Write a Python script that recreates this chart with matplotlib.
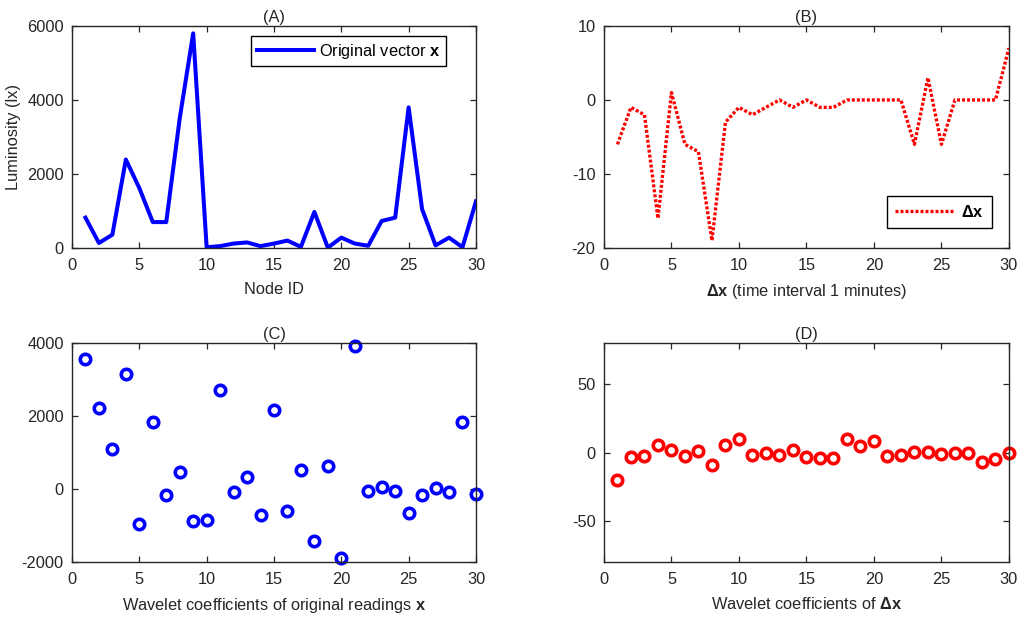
import matplotlib
matplotlib.use("Agg")
import matplotlib.pyplot as plt
import numpy as np

plt.rcParams['font.family'] = ['Liberation Sans', 'DejaVu Sans']
plt.rcParams['mathtext.fontset'] = 'custom'
plt.rcParams['mathtext.rm'] = 'Liberation Sans'
plt.rcParams['mathtext.bf'] = 'Liberation Sans:bold'
plt.rcParams['mathtext.it'] = 'Liberation Sans:italic'
plt.rcParams['axes.unicode_minus'] = False

node_id = list(range(1, 31))

original_x = [820, 135, 360, 2390, 1620, 700, 700, 3500, 5800, 20,
              50, 120, 150, 50, 120, 200, 30, 975, 10, 280,
              120, 60, 730, 820, 3800, 1050, 70, 280, 20, 1260]

delta_x = [-6, -1, -2, -16, 1, -6, -7, -19, -3, -1,
           -2, -1, 0, -1, 0, -1, -1, 0, 0, 0,
           0, 0, -6, 3, -6, 0, 0, 0, 0, 7]

wavelet_x = [3570, 2210, 1096, 3151, -950, 1826, -155, 475, -886, -849,
             2703, -82, 338, -703, 2174, -603, 511, -1434, 639, -1890,
             3927, -64, 64, -55, -667, -174, 18, -82, 1826, -146]

wavelet_dx = [-20, -3, -2.2, 5.6, 1.7, -2.2, 1, -9.4, 5.6, 10,
              -1.5, -0.5, -1.5, 1.7, -3.1, -4.1, -3.9, 10, 4.4, 8.2,
              -2.4, -1.5, 0.5, 0.7, -1.2, -0.2, -0.2, -6.8, -4.8, 0]

xticks = [0, 5, 10, 15, 20, 25, 30]
yticks_a = [0, 2000, 4000, 6000]
yticks_b = [-20, -10, 0, 10]
yticks_c = [-2000, 0, 2000, 4000]
yticks_d = [-50, 0, 50]

txt = '#262626'
fs = 11.8

fig = plt.figure(figsize=(10.24, 6.22), dpi=100)
axA = fig.add_axes([0.0703, 0.6013, 0.3945, 0.357])
axB = fig.add_axes([0.5898, 0.6013, 0.3955, 0.357])
axC = fig.add_axes([0.0703, 0.0965, 0.3945, 0.352])
axD = fig.add_axes([0.5898, 0.0965, 0.3955, 0.352])


def style(ax):
    for s in ax.spines.values():
        s.set_color(txt)
        s.set_linewidth(1.0)
    ax.tick_params(direction='in', top=True, right=True, length=4,
                   width=0.9, colors=txt, labelsize=fs, labelcolor=txt)
    ax.tick_params(axis='x', pad=7.5)
    ax.tick_params(axis='y', pad=6)
    ax.set_xlim(0, 30)
    ax.set_xticks(xticks)


# (A)
axA.plot(node_id, original_x, color='#0000ff', lw=2.9,
         label=r'Original vector $\mathbf{x}$')
style(axA)
axA.set_ylim(0, 6000)
axA.set_yticks(yticks_a)
axA.set_title('(A)', fontsize=fs, color=txt, pad=3)
axA.set_xlabel('Node ID', fontsize=fs, color=txt, labelpad=6.5)
axA.set_ylabel('Luminosity (lx)', fontsize=fs, color=txt, labelpad=4)
legA = axA.legend(loc='upper right', bbox_to_anchor=(0.926, 0.955),
                  borderaxespad=0,
                  fontsize=fs, fancybox=False, framealpha=1,
                  edgecolor='black', handlelength=3.5, borderpad=0.35,
                  handletextpad=0.3)
legA.get_frame().set_linewidth(1.0)

# (B)
axB.plot(node_id, delta_x, color='#ff0000', lw=2.4, dashes=(0.9, 0.6),
         dash_capstyle='butt', label=r'$\mathbf{\Delta x}$')
style(axB)
axB.set_ylim(-20, 10)
axB.set_yticks(yticks_b)
axB.set_title('(B)', fontsize=fs, color=txt, pad=3)
axB.set_xlabel(r'$\mathbf{\Delta x}$ (time interval 1 minutes)',
               fontsize=fs, color=txt, labelpad=6.5)
legB = axB.legend(loc='lower right', bbox_to_anchor=(0.958, 0.09),
                  borderaxespad=0,
                  fontsize=fs, fancybox=False, framealpha=1,
                  edgecolor='black', handlelength=3.6, borderpad=0.5,
                  handletextpad=0.4)
legB.get_frame().set_linewidth(1.0)

# (C)
axC.plot(node_id, wavelet_x, linestyle='none', marker='o', ms=7.5,
         mfc='none', mec='#0000ff', mew=2.6, clip_on=False)
style(axC)
axC.set_ylim(-2000, 4000)
axC.set_yticks(yticks_c)
axC.set_title('(C)', fontsize=fs, color=txt, pad=3)
axC.set_xlabel(r'Wavelet coefficients of original readings $\mathbf{x}$',
               fontsize=fs, color=txt, labelpad=6.5)

# (D)
axD.plot(node_id, wavelet_dx, linestyle='none', marker='o', ms=7.5,
         mfc='none', mec='#ff0000', mew=2.6, clip_on=False)
style(axD)
axD.set_ylim(-80, 80)
axD.set_yticks(yticks_d)
axD.set_title('(D)', fontsize=fs, color=txt, pad=3)
axD.set_xlabel(r'Wavelet coefficients of $\mathbf{\Delta x}$',
               fontsize=fs, color=txt, labelpad=6.5)

fig.savefig('out.png', dpi=100)
